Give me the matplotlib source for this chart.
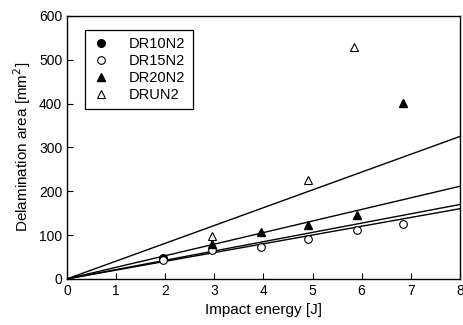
import matplotlib
matplotlib.use("Agg")
import matplotlib.pyplot as plt
import numpy as np

plt.rcParams['font.family'] = ['Liberation Sans', 'DejaVu Sans']

# Data
dr10_x = [1.95]
dr10_y = [48]
dr15_x = [1.95, 2.95, 3.95, 4.9, 5.9, 6.85]
dr15_y = [43, 66, 72, 90, 112, 125]
dr20_x = [2.95, 3.95, 4.9, 5.9, 6.85]
dr20_y = [80, 107, 124, 146, 402]
drun_x = [2.95, 4.9, 5.85]
drun_y = [97, 226, 530]
# fitted line slopes (mm^2 per J)
slopes = [21.2, 20.0, 26.4, 40.6]

fig = plt.figure(figsize=(4.63, 3.25), dpi=100)
ax = fig.add_axes([0.145, 0.142, 0.848, 0.809])

xl = np.array([0, 8])
for s in slopes:
    ax.plot(xl, s * xl, color='black', lw=1.0, zorder=1)

ms = 5.5
ax.plot(dr10_x, dr10_y, 'o', color='black', ms=ms, label='DR10N2', zorder=3)
ax.plot(dr15_x, dr15_y, 'o', mfc='white', mec='black', mew=0.8, ms=ms, label='DR15N2', zorder=3)
ax.plot(dr20_x, dr20_y, '^', color='black', ms=ms, label='DR20N2', zorder=3)
ax.plot(drun_x, drun_y, '^', mfc='white', mec='black', mew=0.8, ms=ms, label='DRUN2', zorder=3)

ax.set_xlim(0, 8)
ax.set_ylim(0, 600)
ax.set_xticks(range(0, 9))
ax.set_yticks(range(0, 601, 100))
ax.tick_params(direction='in', length=4, labelsize=10, width=0.8)
for sp in ax.spines.values():
    sp.set_linewidth(1.0)
ax.set_xlabel('Impact energy [J]', fontsize=11, labelpad=4)
ax.set_ylabel('Delamination area [mm$^2$]', fontsize=11, labelpad=4)

leg = ax.legend(loc='upper left', bbox_to_anchor=(0.028, 0.975), frameon=True, fancybox=False,
                edgecolor='black', fontsize=10.5, handlelength=1.2, handletextpad=1.3,
                borderpad=0.5, labelspacing=0.2, framealpha=1)
leg.get_frame().set_linewidth(0.9)

fig.savefig('out.png', dpi=100)
